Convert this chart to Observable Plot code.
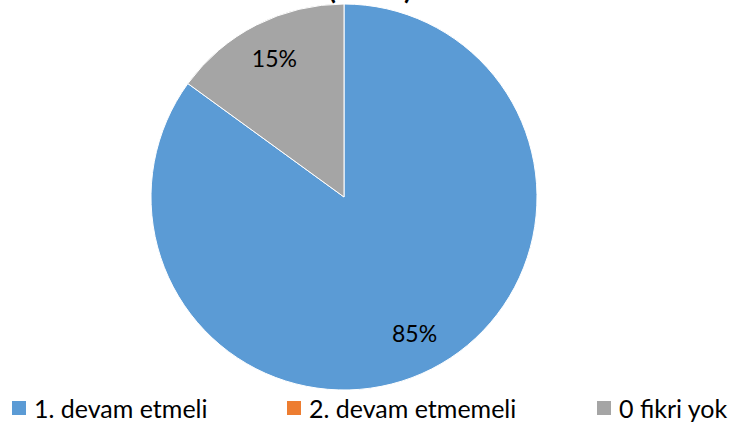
<!DOCTYPE html>
<html>
<head>
<meta charset="utf-8">
<script src="https://cdn.jsdelivr.net/npm/d3@7"></script>
<script src="https://cdn.jsdelivr.net/npm/@observablehq/plot@0.6"></script>
<style>
  html, body { margin: 0; padding: 0; background: #fff; }
  #wrap { position: relative; width: 729px; height: 428px; overflow: hidden; font-family: Lato, "Open Sans", sans-serif; }
  #title { position: absolute; left: 0; width: 729px; top: -26px; text-align: center; padding-left: 11px; box-sizing: border-box;
           font: bold 28px/28px Lato, sans-serif; color: #000; white-space: pre; }
  #chart { position: absolute; left: 0; top: 0; }
  .leg { position: absolute; top: 393px; height: 30px; display: flex; align-items: center; font-size: 25px; line-height: 30px; color: #000; white-space: nowrap; }
  .sw { width: 14px; height: 14px; margin-right: 8px; }
</style>
</head>
<body>
<div id="wrap">
  <div id="chart"></div>
  <div id="title"></div>
  <div id="legend"></div>
</div>
<script>
const categories = ["1. devam etmeli", "2. devam etmemeli", "0 fikri yok"];
const values = [85, 0, 15];
const labels = ["85%", "", "15%"];
const colors = ["#5B9BD5", "#ED7D31", "#A5A5A5"];
const titleText = "(\u00a0\u00a0\u00a0\u00a0\u00a0\u00a0\u00a0\u00a0\u00a0\u00a0)";

const data = categories.map((c, i) => ({category: c, value: values[i], label: labels[i], color: colors[i]}));
const arcs = d3.pie().sort(null).value(d => d.value)(data);
const labelR = 0.8;
const labelData = arcs.filter(a => a.data.value > 0).map(a => {
  const m = (a.startAngle + a.endAngle) / 2;
  return {label: a.data.label, x: labelR * Math.sin(m), y: labelR * Math.cos(m)};
});

function pieMark(index, scales) {
  const cx = scales.x(0), cy = scales.y(0);
  const r = scales.x(1) - scales.x(0);
  const arcGen = d3.arc().innerRadius(0).outerRadius(r);
  const g = d3.create("svg:g").attr("transform", `translate(${cx},${cy})`);
  g.selectAll("path").data(arcs.filter(a => a.data.value > 0)).join("path")
    .attr("d", arcGen)
    .attr("fill", d => d.data.color)
    .attr("stroke", "#fff")
    .attr("stroke-width", 1);
  return g.node();
}

const chart = Plot.plot({
  width: 729,
  height: 428,
  marginLeft: 151,
  marginRight: 192,
  marginTop: 4,
  marginBottom: 38,
  x: {domain: [-1, 1], axis: null},
  y: {domain: [-1, 1], axis: null},
  style: {background: "transparent", overflow: "visible"},
  marks: [
    pieMark,
    Plot.text(labelData, {x: "x", y: "y", text: "label", fontSize: 23, fill: "#000", fontFamily: "Lato"})
  ]
});
document.getElementById("chart").appendChild(chart);
document.getElementById("title").textContent = titleText;

const legendLefts = [12, 287, 597];
const legend = d3.select("#legend");
categories.forEach((c, i) => {
  const item = legend.append("div").attr("class", "leg").style("left", legendLefts[i] + "px");
  item.append("div").attr("class", "sw").style("background", colors[i]);
  item.append("span").text(c);
});
</script>
</body>
</html>
